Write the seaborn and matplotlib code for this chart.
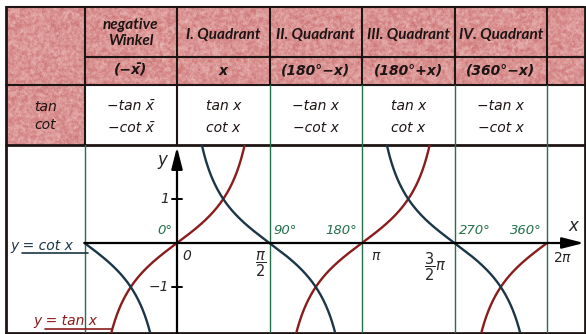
import numpy as np
import pandas as pd
import matplotlib
matplotlib.use("Agg")
import matplotlib.pyplot as plt
import seaborn as sns

sns.set_theme(style="white")
plt.rcParams["font.family"] = ["DejaVu Sans"]
plt.rcParams["mathtext.fontset"] = "dejavusans"

# ---- table content ----
col_heads = ["negative\nWinkel", "I. Quadrant", "II. Quadrant", "III. Quadrant", "IV. Quadrant"]
col_args = ["(−x̄)", "x", "(180°−x)", "(180°+x)", "(360°−x)"]
tan_row = ["−tan x̄", "tan x", "−tan x", "tan x", "−tan x"]
cot_row = ["−cot x̄", "cot x", "−cot x", "cot x", "−cot x"]
row_head = "tan\ncot"

# ---- graph content (positions in multiples of pi/2) ----
tan_branches = [(-1, 1), (1, 3), (3, 4)]
cot_branches = [(-1, 0), (0, 2), (2, 4)]
grid_steps = [-1, 1, 2, 3, 4]
deg_steps = [0, 1, 2, 3, 4]
deg_labels = ["0°", "90°", "180°", "270°", "360°"]
rad_steps = [0, 1, 2, 3, 4]
rad_labels = ["0", r"$\dfrac{\pi}{2}$", r"$\pi$", r"$\dfrac{3}{2}\pi$", r"$2\pi$"]
y_ticks = [1, -1]
y_tick_labels = ["1", "−1"]

# ---- colours ----
TAN_C = "#8a1c1c"
COT_C = "#1b3646"
GREEN = "#23704a"
INK = "#1e1414"
HEAD_FONT = ["Lato", "DejaVu Sans"]

# ---- layout (pixels) ----
W, H = 586, 334
LEFT, RIGHT, TOP, BOTTOM = 6, 585, 7, 333
ROW1, ROW2, ROW3 = 57, 85, 145
X0, UX = 177.0, 92.5 / (np.pi / 2)   # origin and px per radian
Y0, UY = 243.0, 44.0                 # origin and px per unit


def px_x(t):
    return X0 + t * UX


col_edges = [LEFT] + [px_x(s * np.pi / 2) for s in (-1, 0, 1, 2, 3, 4)] + [RIGHT]

fig = plt.figure(figsize=(W / 100, H / 100), dpi=100)
bg = fig.add_axes([0, 0, 1, 1])
bg.set_xlim(0, W)
bg.set_ylim(H, 0)
bg.axis("off")


def texture(h, w, seed):
    """Speckled pink print texture for the shaded table cells."""
    rng = np.random.default_rng(seed)
    blotch = rng.random((h // 4 + 2, w // 4 + 2))
    blotch = np.kron(blotch, np.ones((4, 4)))[:h, :w]
    k = np.ones(5) / 5
    blotch = np.apply_along_axis(lambda r: np.convolve(r, k, mode="same"), 1, blotch)
    blotch = np.apply_along_axis(lambda c: np.convolve(c, k, mode="same"), 0, blotch)
    speck = rng.random((h, w))
    t = 0.5 * blotch + 0.5 * speck ** 1.6
    dark = np.array([196, 96, 98]) / 255
    light = np.array([246, 214, 210]) / 255
    return np.clip(dark + (light - dark) * t[..., None], 0, 1)


bg.imshow(texture((ROW2 - TOP) * 2, (RIGHT - LEFT) * 2, 1), extent=(LEFT, RIGHT, ROW2, TOP),
          aspect="auto", interpolation="antialiased", zorder=0)
c1 = col_edges[1]
bg.imshow(texture((ROW3 - ROW2) * 2, int(c1 - LEFT) * 2, 2), extent=(LEFT, c1, ROW3, ROW2),
          aspect="auto", interpolation="antialiased", zorder=0)

# table rules
lw_k = 1.5
bg.plot([LEFT, RIGHT], [TOP, TOP], color=INK, lw=lw_k)
bg.plot([c1, RIGHT], [ROW1, ROW1], color=INK, lw=lw_k)
bg.plot([LEFT, RIGHT], [ROW2, ROW2], color=INK, lw=lw_k)
bg.plot([LEFT, RIGHT], [ROW3, ROW3], color=INK, lw=2.0)
bg.plot([LEFT, LEFT], [TOP, BOTTOM], color=INK, lw=2.0)
bg.plot([RIGHT, RIGHT], [TOP, BOTTOM], color=INK, lw=2.0)
bg.plot([LEFT, RIGHT], [BOTTOM, BOTTOM], color=INK, lw=2.0)
for i, xe in enumerate(col_edges[1:-1]):
    bg.plot([xe, xe], [TOP, ROW2], color=INK, lw=lw_k)
    bg.plot([xe, xe], [ROW2, ROW3], color=INK if i < 2 else GREEN, lw=lw_k if i < 2 else 1.0)

# table text
body_kw = dict(ha="center", va="center", style="italic", color=INK, fontsize=10)
for i in range(5):
    xc = (col_edges[i + 1] + col_edges[i + 2]) / 2
    bg.text(xc, 33 if i == 0 else 35, col_heads[i], fontsize=11, linespacing=1.12,
            ha="center", va="center", style="italic", weight="bold", color=INK,
            family=HEAD_FONT)
    bg.text(xc, 71, col_args[i], fontsize=10, ha="center", va="center", style="italic",
            weight="bold", color=INK)
    bg.text(xc, 106, tan_row[i], **body_kw)
    bg.text(xc, 128, cot_row[i], **body_kw)
bg.text((LEFT + c1) / 2, 116, row_head, fontsize=10, linespacing=1.3,
        ha="center", va="center", style="italic", color=INK)

# ---- graph ----
ax = fig.add_axes([LEFT / W, (H - BOTTOM) / H, (RIGHT - LEFT) / W, (BOTTOM - ROW3) / H])
ax.set_xlim((LEFT - X0) / UX, (RIGHT - X0) / UX)
ax.set_ylim((Y0 - BOTTOM) / UY, (Y0 - ROW3) / UY)
ax.axis("off")
ax.patch.set_alpha(0)

YMAX = 2.4
reach = np.arctan(YMAX)
frames = []
for k, (a, b) in enumerate(tan_branches):
    c = (a + 1) * np.pi / 2
    lo, hi = max(a * np.pi / 2, c - reach), min(b * np.pi / 2, c + reach)
    x = np.linspace(lo, hi, 200)
    frames.append(pd.DataFrame({"x": x, "y": np.tan(x), "curve": f"tan{k}"}))
for k, (a, b) in enumerate(cot_branches):
    z = (a + 1) * np.pi / 2 if b - a == 2 else a * np.pi / 2
    lo, hi = max(a * np.pi / 2 + 1e-6, z - reach), min(b * np.pi / 2 - 1e-6, z + reach)
    x = np.linspace(lo, hi, 200)
    frames.append(pd.DataFrame({"x": x, "y": 1 / np.tan(x), "curve": f"cot{k}"}))
curves = pd.concat(frames, ignore_index=True)
palette = {name: (TAN_C if name.startswith("tan") else COT_C) for name in curves["curve"].unique()}

for s in grid_steps:
    ax.axvline(s * np.pi / 2, color=GREEN, lw=1.0, zorder=1)

sns.lineplot(data=curves, x="x", y="y", hue="curve", units="curve", estimator=None,
             palette=palette, lw=1.7, legend=False, sort=False, ax=ax, zorder=3)

# axes with arrows
x_tip = (RIGHT - 1 - X0) / UX
ax.annotate("", xy=(x_tip, 0), xytext=(-np.pi / 2, 0),
            arrowprops=dict(arrowstyle="-|>,head_length=1.1,head_width=0.28", lw=1.6,
                            color="black", shrinkA=0, shrinkB=0), zorder=4)
y_tip = (Y0 - 147) / UY
ax.annotate("", xy=(0, y_tip), xytext=(0, (Y0 - BOTTOM) / UY),
            arrowprops=dict(arrowstyle="-|>,head_length=1.1,head_width=0.28", lw=1.6,
                            color="black", shrinkA=0, shrinkB=0), zorder=4)
ax.text(-0.16, (Y0 - 160) / UY, "y", fontsize=12, style="italic", ha="right", va="center")
ax.text(x_tip - 0.1, 0.18, "x", fontsize=12, style="italic", ha="right", va="bottom")

# y ticks
for v, lab in zip(y_ticks, y_tick_labels):
    ax.plot([-0.09, 0.09], [v, v], color="black", lw=1.4)
    ax.text(-0.14, v, lab, fontsize=10, style="italic", ha="right", va="center")

# degree labels
for s, lab in zip(deg_steps, deg_labels):
    right_side = s in (1, 3)
    ax.annotate(lab, xy=(s * np.pi / 2, 0), xytext=(4 if right_side else -5, 6),
                textcoords="offset pixels", ha="left" if right_side else "right",
                va="bottom", fontsize=9.5, style="italic", color=GREEN)

# radian labels
rad_offsets = {0: (5, -6, "left"), 1: (-9, -6, "center"), 2: (9, -6, "left"),
               3: (-19, -7, "center"), 4: (6, -8, "left")}
for s, lab in zip(rad_steps, rad_labels):
    dx, dy, ha = rad_offsets[s]
    ax.annotate(lab, xy=(s * np.pi / 2, 0), xytext=(dx, dy), textcoords="offset pixels",
                ha=ha, va="top", fontsize=10.5 if s in (1, 3) else 10, style="italic")

# curve captions with underline leaders
ax.text((10 - X0) / UX, (Y0 - 246) / UY, "y = cot x", fontsize=10, style="italic",
        color=COT_C, ha="left", va="center")
ax.plot([(22 - X0) / UX, (88 - X0) / UX], [(Y0 - 253) / UY] * 2, color=COT_C, lw=1.2)

ax.text((33 - X0) / UX, (Y0 - 321) / UY, "y = tan x", fontsize=10, style="italic",
        color=TAN_C, ha="left", va="center")
ax.plot([(45 - X0) / UX, -np.arctan((BOTTOM - Y0 - 4) / UY)], [(Y0 - 329) / UY] * 2,
        color=TAN_C, lw=1.2)

fig.savefig("out.png", dpi=100)
